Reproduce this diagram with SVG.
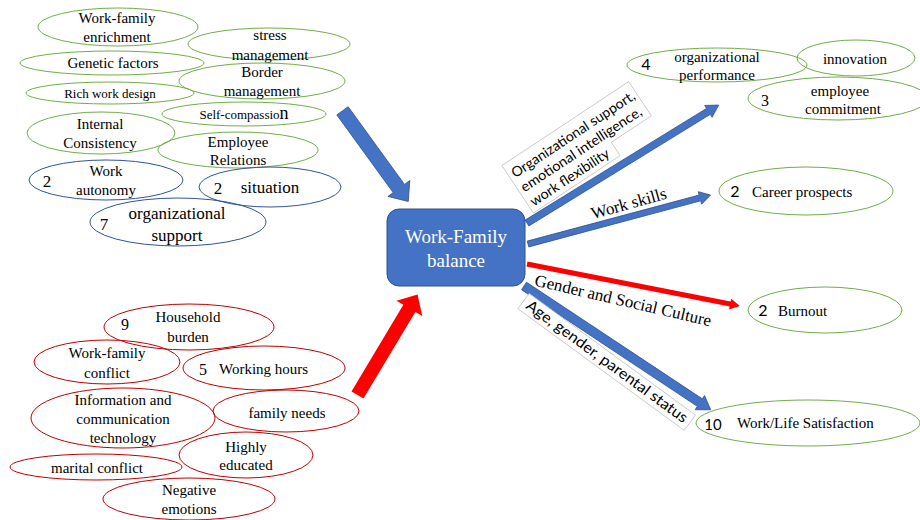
<svg xmlns="http://www.w3.org/2000/svg" width="920" height="520" viewBox="0 0 920 520">
<style>
.g{fill:none;stroke:#70AD47;stroke-width:1}
.b{fill:none;stroke:#2F5597;stroke-width:1}
.r{fill:none;stroke:#C00000;stroke-width:1}
.box{fill:#fff;stroke:#BFBFBF;stroke-width:0.75}
.ab{fill:#4472C4;stroke:#2F528F;stroke-width:0.75}
.ar{fill:#FF0000;stroke:none}
</style>
<rect width="920" height="520" fill="#fff"/>
<g id="connectors">
  <polygon class="ab" transform="translate(342.5,110.8) rotate(54.05)" points="0,-7 96,-7 96,-13.5 112,0 96,13.5 96,7 0,7"/>
  <polygon class="ar" transform="translate(357.5,395) rotate(-59.1)" points="0,-7 101,-7 101,-15 117,0 101,15 101,7 0,7"/>
  <polygon class="ab" transform="translate(527,223) rotate(-31.6)" points="0,-3.5 213,-3.5 213,-7 225,0 213,7 213,3.5 0,3.5"/>
  <polygon class="ab" transform="translate(528,244) rotate(-15)" points="0,-3 178,-3 178,-6.5 189,0 178,6.5 178,3 0,3"/>
  <polygon class="ar" transform="translate(527,264) rotate(11.15)" points="0,-2.5 207,-2.5 207,-5.5 217,0 207,5.5 207,2.5 0,2.5"/>
  <polygon class="ab" transform="translate(524,286) rotate(33.55)" points="0,-4.5 211,-4.5 211,-8.5 224,0 211,8.5 211,4.5 0,4.5"/>
  <g transform="translate(513,175) rotate(-33.5)">
    <polygon class="box" points="-4,-14 148,-14 148,27 100,27 100,43 -4,43"/>
    <text font-family="Lato" font-size="14" x="0" y="4" textLength="145" lengthAdjust="spacingAndGlyphs">Organizational support,</text>
    <text font-family="Lato" font-size="14" x="0" y="21" textLength="142" lengthAdjust="spacingAndGlyphs">emotional intelligence,</text>
    <text font-family="Lato" font-size="14" x="0" y="38" textLength="92" lengthAdjust="spacingAndGlyphs">work flexibility</text>
  </g>
  <text font-family="Liberation Serif" text-anchor="middle" font-size="17" transform="translate(629,204) rotate(-15.7)" x="0" y="5">Work skills</text>
  <text font-family="Liberation Serif" text-anchor="middle" font-size="17" transform="translate(623,301) rotate(13.1)" x="0" y="5">Gender and Social Culture</text>
  <g transform="translate(607,361.5) rotate(36.2)">
    <rect class="box" x="-103" y="-9" width="206" height="19"/>
    <text font-family="Lato" font-size="15" text-anchor="middle" x="0" y="5" textLength="196" lengthAdjust="spacingAndGlyphs">Age, gender, parental status</text>
  </g>
</g>
<g id="center">
  <rect x="387" y="209" width="138" height="77" rx="12" fill="#4472C4" stroke="#2F528F" stroke-width="1"/>
  <text font-family="Liberation Serif" text-anchor="middle" x="456" y="243" font-size="19" fill="#fff">Work-Family</text>
  <text font-family="Liberation Serif" text-anchor="middle" x="456" y="267" font-size="19" fill="#fff">balance</text>
</g>
<g id="n-enrichment"><ellipse class="g" cx="118" cy="27" rx="80" ry="19"/><text font-family="Liberation Serif" font-size="15" text-anchor="middle" x="117" y="23">Work-family</text><text font-family="Liberation Serif" font-size="15" text-anchor="middle" x="117" y="42">enrichment</text></g>
<g id="n-stress"><ellipse class="g" cx="269" cy="44" rx="81" ry="16"/><text font-family="Liberation Serif" font-size="15" text-anchor="middle" x="270" y="40">stress</text><text font-family="Liberation Serif" font-size="15" text-anchor="middle" x="270" y="60">management</text></g>
<g id="n-genetic"><ellipse class="g" cx="112" cy="63" rx="92" ry="12"/><text font-family="Liberation Serif" font-size="15" text-anchor="middle" x="113" y="68">Genetic factors</text></g>
<g id="n-border"><ellipse class="g" cx="262" cy="81" rx="83" ry="18"/><text font-family="Liberation Serif" font-size="15" text-anchor="middle" x="262" y="77">Border</text><text font-family="Liberation Serif" font-size="15" text-anchor="middle" x="262" y="96">management</text></g>
<g id="n-rich"><ellipse class="g" cx="110" cy="93" rx="84" ry="11"/><text font-family="Liberation Serif" font-size="13" text-anchor="middle" x="110" y="98">Rich work design</text></g>
<g id="n-self"><ellipse class="g" cx="244" cy="114" rx="82" ry="12"/><text font-family="Liberation Serif" font-size="13" text-anchor="middle" x="244" y="119">Self-compassio<tspan font-size="18">n</tspan></text></g>
<g id="n-internal"><ellipse class="g" cx="101" cy="133" rx="74" ry="21"/><text font-family="Liberation Serif" font-size="15" text-anchor="middle" x="100" y="129">Internal</text><text font-family="Liberation Serif" font-size="15" text-anchor="middle" x="100" y="148">Consistency</text></g>
<g id="n-employee"><ellipse class="g" cx="238" cy="150" rx="80" ry="18"/><text font-family="Liberation Serif" font-size="15" text-anchor="middle" x="238" y="147">Employee</text><text font-family="Liberation Serif" font-size="15" text-anchor="middle" x="238" y="165">Relations</text></g>
<g id="n-autonomy"><ellipse class="b" cx="106" cy="180" rx="77" ry="20"/><text font-family="Liberation Serif" font-size="17" text-anchor="middle" x="47" y="187">2</text><text font-family="Liberation Serif" font-size="15" text-anchor="middle" x="106" y="176">Work</text><text font-family="Liberation Serif" font-size="15" text-anchor="middle" x="106" y="195">autonomy</text></g>
<g id="n-situation"><ellipse class="b" cx="270" cy="187" rx="71" ry="20"/><text font-family="Liberation Serif" font-size="17" text-anchor="middle" x="218" y="194">2</text><text font-family="Liberation Serif" font-size="17" text-anchor="middle" x="270" y="193">situation</text></g>
<g id="n-orgsupport"><ellipse class="b" cx="178" cy="222" rx="88" ry="24"/><text font-family="Liberation Serif" font-size="17" text-anchor="middle" x="104" y="230">7</text><text font-family="Liberation Serif" font-size="17" text-anchor="middle" x="177" y="219">organizational</text><text font-family="Liberation Serif" font-size="17" text-anchor="middle" x="177" y="241">support</text></g>
<g id="n-household"><ellipse class="r" cx="189" cy="327" rx="85" ry="23"/><text font-family="Liberation Serif" font-size="16" text-anchor="middle" x="125" y="330">9</text><text font-family="Liberation Serif" font-size="15" text-anchor="middle" x="188" y="322">Household</text><text font-family="Liberation Serif" font-size="15" text-anchor="middle" x="188" y="342">burden</text></g>
<g id="n-wfconflict"><ellipse class="r" cx="107" cy="362" rx="73" ry="22"/><text font-family="Liberation Serif" font-size="15" text-anchor="middle" x="107" y="358">Work-family</text><text font-family="Liberation Serif" font-size="15" text-anchor="middle" x="107" y="378">conflict</text></g>
<g id="n-hours"><ellipse class="r" cx="264" cy="368" rx="81" ry="22"/><text font-family="Liberation Serif" font-size="16" text-anchor="middle" x="203" y="375">5</text><text font-family="Liberation Serif" font-size="15" x="219" y="374">Working hours</text></g>
<g id="n-ict"><ellipse class="r" cx="123" cy="418" rx="92" ry="30"/><text font-family="Liberation Serif" font-size="15" text-anchor="middle" x="123" y="405">Information and</text><text font-family="Liberation Serif" font-size="15" text-anchor="middle" x="123" y="424">communication</text><text font-family="Liberation Serif" font-size="15" text-anchor="middle" x="123" y="443">technology</text></g>
<g id="n-needs"><ellipse class="r" cx="286" cy="411" rx="73" ry="21"/><text font-family="Liberation Serif" font-size="15" text-anchor="middle" x="287" y="418">family needs</text></g>
<g id="n-educated"><ellipse class="r" cx="246" cy="455" rx="67" ry="23"/><text font-family="Liberation Serif" font-size="15" text-anchor="middle" x="246" y="452">Highly</text><text font-family="Liberation Serif" font-size="15" text-anchor="middle" x="246" y="470">educated</text></g>
<g id="n-marital"><ellipse class="r" cx="96" cy="467" rx="86" ry="13"/><text font-family="Liberation Serif" font-size="15" text-anchor="middle" x="97" y="473">marital conflict</text></g>
<g id="n-negative"><ellipse class="r" cx="189" cy="499" rx="86" ry="21"/><text font-family="Liberation Serif" font-size="15" text-anchor="middle" x="189" y="495">Negative</text><text font-family="Liberation Serif" font-size="15" text-anchor="middle" x="189" y="514">emotions</text></g>
<g id="r-performance"><ellipse class="g" cx="717" cy="65" rx="90" ry="17"/><text font-family="Lato" font-size="16" text-anchor="middle" x="646" y="70">4</text><text font-family="Liberation Serif" font-size="15" text-anchor="middle" x="717" y="62">organizational</text><text font-family="Liberation Serif" font-size="15" text-anchor="middle" x="717" y="80">performance</text></g>
<g id="r-innovation"><ellipse class="g" cx="856" cy="58" rx="59" ry="18"/><text font-family="Liberation Serif" font-size="15" text-anchor="middle" x="855" y="64">innovation</text></g>
<g id="r-commitment"><ellipse class="g" cx="838" cy="98.5" rx="90" ry="21.5"/><text font-family="Liberation Serif" font-size="16" text-anchor="middle" x="765" y="106">3</text><text font-family="Liberation Serif" font-size="15" text-anchor="middle" x="840" y="96">employee</text><text font-family="Liberation Serif" font-size="15" text-anchor="middle" x="843" y="114">commitment</text></g>
<g id="r-career"><ellipse class="g" cx="806" cy="191" rx="87" ry="24"/><text font-family="Lato" font-size="16" text-anchor="middle" x="735" y="197">2</text><text font-family="Liberation Serif" font-size="15" x="752" y="197">Career prospects</text></g>
<g id="r-burnout"><ellipse class="g" cx="825" cy="310" rx="77" ry="23"/><text font-family="Lato" font-size="16" text-anchor="middle" x="763" y="316">2</text><text font-family="Liberation Serif" font-size="15" x="778" y="316">Burnout</text></g>
<g id="r-satisfaction"><ellipse class="g" cx="808" cy="423" rx="112" ry="23"/><text font-family="Lato" font-size="15" text-anchor="middle" x="713" y="430">10</text><text font-family="Liberation Serif" font-size="15" x="737" y="428">Work/Life Satisfaction</text></g>
</svg>
